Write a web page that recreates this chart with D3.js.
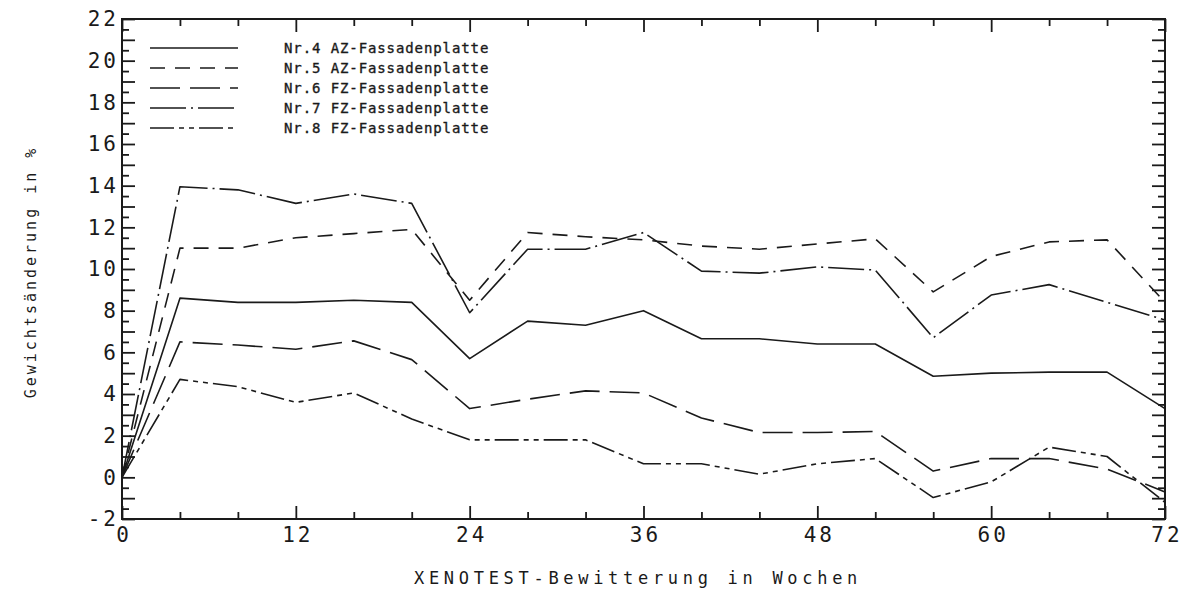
<!DOCTYPE html>
<html>
<head>
<meta charset="utf-8">
<script src="https://cdn.jsdelivr.net/npm/d3@7"></script>
<style>
  html, body { margin: 0; padding: 0; background: #fff; }
  svg { display: block; }
  text { font-family: "DejaVu Sans Mono", monospace; fill: #1a1a1a; }
</style>
</head>
<body>
<svg id="chart" width="1182" height="592"></svg>
<script>
// ---- data ----
const weeks = [0, 4, 8, 12, 16, 20, 24, 28, 32, 36, 40, 44, 48, 52, 56, 60, 64, 68, 72];
const nr4 = [0, 8.6, 8.4, 8.4, 8.5, 8.4, 5.7, 7.5, 7.3, 8.0, 6.65, 6.65, 6.4, 6.4, 4.85, 5.0, 5.05, 5.05, 3.3];
const nr5 = [0, 11.0, 11.0, 11.5, 11.7, 11.9, 8.5, 11.75, 11.55, 11.4, 11.1, 10.95, 11.2, 11.45, 8.9, 10.6, 11.3, 11.4, 8.4];
const nr6 = [0, 6.5, 6.35, 6.15, 6.55, 5.65, 3.3, 3.75, 4.15, 4.05, 2.85, 2.15, 2.15, 2.2, 0.3, 0.9, 0.9, 0.4, -0.7];
const nr7 = [0, 13.95, 13.8, 13.15, 13.6, 13.15, 7.9, 10.95, 10.95, 11.75, 9.9, 9.8, 10.1, 9.95, 6.7, 8.75, 9.25, 8.4, 7.55];
const nr8 = [0, 4.7, 4.35, 3.6, 4.05, 2.8, 1.8, 1.8, 1.8, 0.65, 0.65, 0.15, 0.65, 0.9, -0.97, -0.22, 1.45, 1.0, -1.2];
const seriesNames = ["Nr.4 AZ-Fassadenplatte", "Nr.5 AZ-Fassadenplatte", "Nr.6 FZ-Fassadenplatte", "Nr.7 FZ-Fassadenplatte", "Nr.8 FZ-Fassadenplatte"];
const xMajorTicks = [0, 12, 24, 36, 48, 60, 72];
const xMinorTicks = [4, 8, 16, 20, 28, 32, 40, 44, 52, 56, 64, 68];
const yLabelTicks = [-2, 0, 2, 4, 6, 8, 10, 12, 14, 16, 18, 20, 22];
const xTitle = "XENOTEST-Bewitterung in Wochen";
const yTitle = "Gewichtsänderung in %";

// ---- styles (kept separate from data) ----
const dashes = [null, "15,10", "30,10", "36,5,2,5", "24,5,5,5,5,5"];
const allSeries = [nr4, nr5, nr6, nr7, nr8];

const svg = d3.select("#chart");
const pLeft = 122, pRight = 1165, pTop = 19, pBottom = 519;
const x = d3.scaleLinear().domain([0, 72]).range([pLeft, pRight]);
const y = d3.scaleLinear().domain([-2, 22]).range([pBottom, pTop]);

const yMajor = d3.range(-2, 22.01, 1);
const yMinor = d3.range(-1.5, 22, 1);
const ink = "#1a1a1a";

function styleAxis(g) {
  g.select(".domain").remove();
  g.selectAll(".tick line").attr("stroke", ink).attr("stroke-width", 1.8);
  g.selectAll(".tick text").attr("fill", ink)
    .style("font-size", "21px").style("letter-spacing", "3px");
}

// left axis
svg.append("g").attr("transform", `translate(${pLeft},0)`)
  .call(d3.axisLeft(y).tickValues(yMajor).tickSize(-13).tickPadding(3)
    .tickFormat(d => (yLabelTicks.includes(d) ? String(d) : "")))
  .call(styleAxis);
svg.append("g").attr("transform", `translate(${pLeft},0)`)
  .call(d3.axisLeft(y).tickValues(yMinor).tickSize(-7).tickFormat(""))
  .call(styleAxis);
// right axis
svg.append("g").attr("transform", `translate(${pRight},0)`)
  .call(d3.axisRight(y).tickValues(yMajor).tickSize(-13).tickFormat(""))
  .call(styleAxis);
svg.append("g").attr("transform", `translate(${pRight},0)`)
  .call(d3.axisRight(y).tickValues(yMinor).tickSize(-7).tickFormat(""))
  .call(styleAxis);
// bottom axis
svg.append("g").attr("transform", `translate(0,${pBottom})`)
  .call(d3.axisBottom(x).tickValues(xMajorTicks).tickSize(-13).tickPadding(8).tickFormat(d => String(d)))
  .call(styleAxis)
  .call(g => g.selectAll(".tick text").attr("dx", "1.5px"));
svg.append("g").attr("transform", `translate(0,${pBottom})`)
  .call(d3.axisBottom(x).tickValues(xMinorTicks).tickSize(-7).tickFormat(""))
  .call(styleAxis);
// top axis
svg.append("g").attr("transform", `translate(0,${pTop})`)
  .call(d3.axisTop(x).tickValues(xMajorTicks).tickSize(-13).tickFormat(""))
  .call(styleAxis);
svg.append("g").attr("transform", `translate(0,${pTop})`)
  .call(d3.axisTop(x).tickValues(xMinorTicks).tickSize(-7).tickFormat(""))
  .call(styleAxis);

// frame
svg.append("rect").attr("x", pLeft).attr("y", pTop)
  .attr("width", pRight - pLeft).attr("height", pBottom - pTop)
  .attr("fill", "none").attr("stroke", ink).attr("stroke-width", 2);

// lines
const line = d3.line().x((d, i) => x(weeks[i])).y(d => y(d));
allSeries.forEach((s, i) => {
  svg.append("path").datum(s).attr("d", line)
    .attr("fill", "none").attr("stroke", ink).attr("stroke-width", 1.6)
    .attr("stroke-linejoin", "round")
    .attr("stroke-dasharray", dashes[i]);
});

// legend
const legY = [48, 68, 88, 108, 128];
seriesNames.forEach((name, i) => {
  svg.append("line").attr("x1", 150).attr("x2", 238)
    .attr("y1", legY[i]).attr("y2", legY[i])
    .attr("stroke", ink).attr("stroke-width", 1.6)
    .attr("stroke-dasharray", dashes[i]);
  svg.append("text").attr("x", 284).attr("y", legY[i]).attr("dy", "0.35em")
    .style("font-size", "14px").style("letter-spacing", "0.9px")
    .attr("stroke", ink).attr("stroke-width", 0.35)
    .text(name);
});

// axis titles
svg.append("text").attr("x", 638).attr("y", 584)
  .attr("text-anchor", "middle").style("font-size", "17px").style("letter-spacing", "4.7px")
  .text(xTitle);
svg.append("text").attr("transform", "translate(36,272) rotate(-90)")
  .attr("text-anchor", "middle").style("font-size", "15px").style("letter-spacing", "3px")
  .text(yTitle);
</script>
</body>
</html>
